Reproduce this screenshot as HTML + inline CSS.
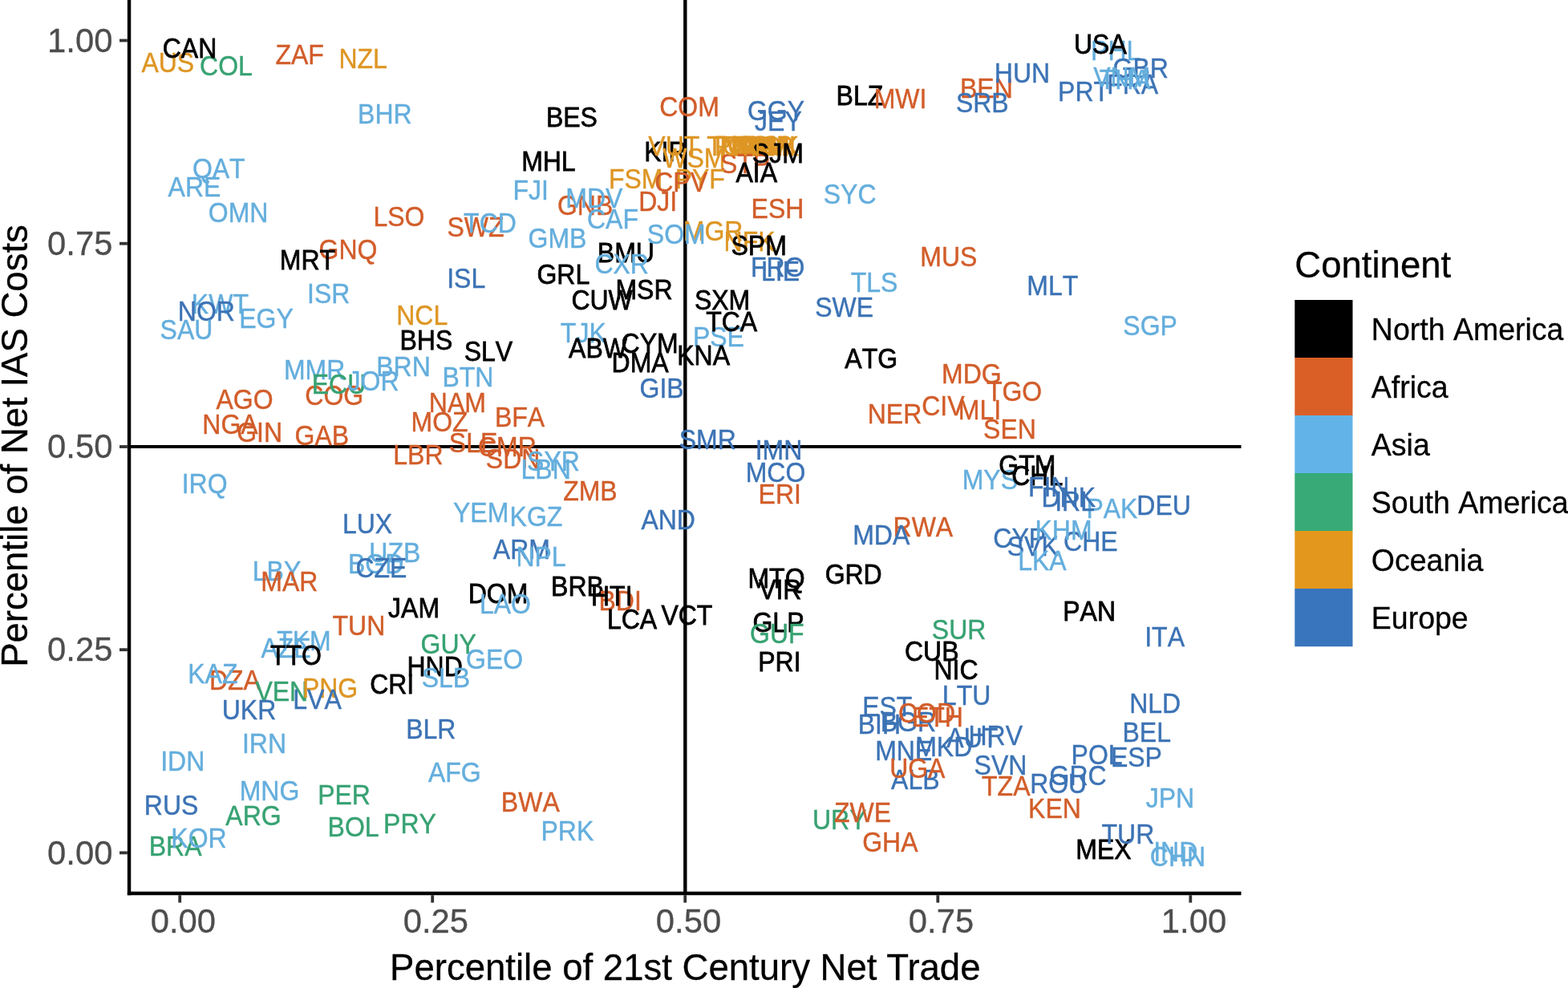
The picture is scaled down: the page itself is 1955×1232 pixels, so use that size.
<!DOCTYPE html>
<html lang="en"><head><meta charset="utf-8"><title>Percentile of Net IAS Costs vs 21st Century Net Trade</title>
<style>html,body{margin:0;padding:0;background:#fff}body{width:1955px;height:1232px;overflow:hidden}svg{display:block}text{font-family:"Liberation Sans",sans-serif;font-kerning:none}.l{font-size:32px;text-anchor:middle;stroke-width:0.4px}.tk{font-size:41.8px;fill:#4D4D4D;stroke:#4D4D4D;stroke-width:0.3px}.ti{font-size:45.55px;fill:#000;stroke:#000;stroke-width:0.3px;font-kerning:auto}.lg{font-size:37.5px;fill:#000;stroke:#000;stroke-width:0.3px}</style></head><body>
<svg width="1955" height="1232" viewBox="0 0 1955 1232" role="img" aria-label="Scatter plot of country codes: percentile of net IAS costs against percentile of 21st century net trade, coloured by continent">
<rect width="1955" height="1232" fill="#fff"/>
<g stroke="#000" fill="none">
<line x1="161" y1="557.1" x2="1547.5" y2="557.1" stroke-width="4"/>
<line x1="854.3" y1="-2" x2="854.3" y2="1114" stroke-width="4.4"/>
</g>
<g class="l" transform="scale(1 1.1)">
<g fill="#DE9624" stroke="#DE9624">
<text x="209.3" y="81.64">AUS</text>
</g>
<g fill="#37A272" stroke="#37A272">
<text x="282.0" y="85.55">COL</text>
</g>
<g fill="#000000" stroke="#000000" stroke-width="0.7">
<text x="236.5" y="65.10">CAN</text>
</g>
<g fill="#D25D2A" stroke="#D25D2A">
<text x="373.6" y="73.10">ZAF</text>
</g>
<g fill="#DE9624" stroke="#DE9624">
<text x="452.7" y="77.55">NZL</text>
</g>
<g fill="#64AEDD" stroke="#64AEDD">
<text x="479.9" y="139.74">BHR</text>
<text x="272.8" y="201.92">QAT</text>
<text x="242.5" y="222.83">ARE</text>
<text x="297.1" y="252.10">OMN</text>
</g>
<g fill="#D25D2A" stroke="#D25D2A">
<text x="497.5" y="256.46">LSO</text>
</g>
<g fill="#000000" stroke="#000000" stroke-width="0.7">
<text x="712.9" y="143.92">BES</text>
</g>
<g fill="#D25D2A" stroke="#D25D2A">
<text x="859.5" y="131.46">COM</text>
</g>
<g fill="#3C73B5" stroke="#3C73B5">
<text x="967.5" y="136.46">GGY</text>
</g>
<g fill="#000000" stroke="#000000" stroke-width="0.7">
<text x="683.9" y="194.01">MHL</text>
</g>
<g fill="#DE9624" stroke="#DE9624">
<text x="792.7" y="214.10">FSM</text>
</g>
<g fill="#64AEDD" stroke="#64AEDD">
<text x="661.8" y="226.55">FJI</text>
</g>
<g fill="#D25D2A" stroke="#D25D2A">
<text x="729.6" y="243.55">GNB</text>
</g>
<g fill="#64AEDD" stroke="#64AEDD">
<text x="740.8" y="235.37">MDV</text>
<text x="764.0" y="258.92">CAF</text>
</g>
<g fill="#D25D2A" stroke="#D25D2A">
<text x="593.0" y="268.37">SWZ</text>
</g>
<g fill="#64AEDD" stroke="#64AEDD">
<text x="611.0" y="263.64">TCD</text>
<text x="695.0" y="280.46">GMB</text>
</g>
<g fill="#000000" stroke="#000000" stroke-width="0.7">
<text x="1071.9" y="118.92">BLZ</text>
</g>
<g fill="#D25D2A" stroke="#D25D2A">
<text x="1122.5" y="123.19">MWI</text>
<text x="1229.9" y="110.92">BEN</text>
</g>
<g fill="#3C73B5" stroke="#3C73B5">
<text x="1224.8" y="127.19">SRB</text>
<text x="1274.5" y="94.10">HUN</text>
</g>
<g fill="#64AEDD" stroke="#64AEDD">
<text x="1059.6" y="230.83">SYC</text>
</g>
<g fill="#D25D2A" stroke="#D25D2A">
<text x="434.0" y="294.10">GNQ</text>
</g>
<g fill="#000000" stroke="#000000" stroke-width="0.7">
<text x="383.4" y="305.74">MRT</text>
</g>
<g fill="#64AEDD" stroke="#64AEDD">
<text x="409.7" y="343.46">ISR</text>
<text x="274.4" y="355.28">KWT</text>
</g>
<g fill="#3C73B5" stroke="#3C73B5">
<text x="257.4" y="364.01">NOR</text>
</g>
<g fill="#64AEDD" stroke="#64AEDD">
<text x="332.0" y="372.01">EGY</text>
<text x="232.5" y="384.28">SAU</text>
<text x="392.1" y="430.10">MMR</text>
<text x="503.0" y="426.46">BRN</text>
</g>
<g fill="#D25D2A" stroke="#D25D2A">
<text x="416.8" y="458.74">COG</text>
<text x="305.1" y="463.46">AGO</text>
<text x="287.0" y="492.28">NGA</text>
<text x="323.6" y="500.46">GIN</text>
<text x="401.3" y="504.28">GAB</text>
</g>
<g fill="#000000" stroke="#000000" stroke-width="0.7">
<text x="780.4" y="297.46">BMU</text>
</g>
<g fill="#3C73B5" stroke="#3C73B5">
<text x="581.2" y="326.28">ISL</text>
</g>
<g fill="#000000" stroke="#000000" stroke-width="0.7">
<text x="702.3" y="322.19">GRL</text>
<text x="803.0" y="339.01">MSR</text>
<text x="900.6" y="350.83">SXM</text>
</g>
<g fill="#DE9624" stroke="#DE9624">
<text x="526.2" y="368.28">NCL</text>
</g>
<g fill="#64AEDD" stroke="#64AEDD">
<text x="727.3" y="388.46">TJK</text>
<text x="895.9" y="392.74">PSE</text>
</g>
<g fill="#000000" stroke="#000000" stroke-width="0.7">
<text x="531.4" y="396.64">BHS</text>
<text x="608.9" y="408.92">SLV</text>
<text x="745.5" y="405.55">ABW</text>
<text x="810.1" y="400.37">CYM</text>
<text x="877.1" y="413.64">KNA</text>
<text x="798.1" y="421.92">DMA</text>
</g>
<g fill="#64AEDD" stroke="#64AEDD">
<text x="583.4" y="437.92">BTN</text>
</g>
<g fill="#3C73B5" stroke="#3C73B5">
<text x="825.1" y="450.64">GIB</text>
</g>
<g fill="#D25D2A" stroke="#D25D2A">
<text x="570.4" y="467.37">NAM</text>
<text x="548.1" y="488.74">MOZ</text>
<text x="648.0" y="484.01">BFA</text>
<text x="590.1" y="512.28">SLE</text>
<text x="632.4" y="517.01">CMR</text>
<text x="521.4" y="526.46">LBR</text>
<text x="639.6" y="531.19">SDN</text>
</g>
<g fill="#64AEDD" stroke="#64AEDD">
<text x="690.0" y="533.55">SYR</text>
<text x="680.7" y="543.01">LBN</text>
</g>
<g fill="#3C73B5" stroke="#3C73B5">
<text x="882.3" y="508.74">SMR</text>
</g>
<g fill="#D25D2A" stroke="#D25D2A">
<text x="1182.8" y="301.64">MUS</text>
</g>
<g fill="#64AEDD" stroke="#64AEDD">
<text x="1090.0" y="330.46">TLS</text>
</g>
<g fill="#3C73B5" stroke="#3C73B5">
<text x="1052.7" y="359.28">SWE</text>
<text x="1312.3" y="334.74">MLT</text>
</g>
<g fill="#64AEDD" stroke="#64AEDD">
<text x="1434.1" y="380.28">SGP</text>
</g>
<g fill="#000000" stroke="#000000" stroke-width="0.7">
<text x="1086.2" y="417.19">ATG</text>
</g>
<g fill="#D25D2A" stroke="#D25D2A">
<text x="1211.3" y="434.64">MDG</text>
<text x="1264.6" y="454.92">TGO</text>
<text x="1175.9" y="471.01">CIV</text>
<text x="1115.5" y="480.46">NER</text>
<text x="1221.5" y="475.74">MLI</text>
<text x="1259.0" y="497.19">SEN</text>
</g>
<g fill="#64AEDD" stroke="#64AEDD">
<text x="255.1" y="559.28">IRQ</text>
<text x="345.0" y="658.28">LBY</text>
</g>
<g fill="#D25D2A" stroke="#D25D2A">
<text x="360.9" y="670.28">MAR</text>
<text x="447.4" y="720.37">TUN</text>
</g>
<g fill="#64AEDD" stroke="#64AEDD">
<text x="379.0" y="736.83">TKM</text>
<text x="356.5" y="745.55">AZE</text>
</g>
<g fill="#000000" stroke="#000000" stroke-width="0.7">
<text x="369.0" y="753.83">TTO</text>
</g>
<g fill="#D25D2A" stroke="#D25D2A">
<text x="292.9" y="782.19">DZA</text>
</g>
<g fill="#37A272" stroke="#37A272">
<text x="351.3" y="794.28">VEN</text>
</g>
<g fill="#DE9624" stroke="#DE9624">
<text x="411.6" y="790.74">PNG</text>
</g>
<g fill="#000000" stroke="#000000" stroke-width="0.7">
<text x="516.1" y="699.55">JAM</text>
<text x="488.7" y="786.46">CRI</text>
</g>
<g fill="#D25D2A" stroke="#D25D2A">
<text x="735.9" y="567.37">ZMB</text>
</g>
<g fill="#64AEDD" stroke="#64AEDD">
<text x="599.7" y="591.64">YEM</text>
<text x="668.5" y="595.92">KGZ</text>
</g>
<g fill="#3C73B5" stroke="#3C73B5">
<text x="833.2" y="600.10">AND</text>
<text x="650.4" y="633.46">ARM</text>
</g>
<g fill="#64AEDD" stroke="#64AEDD">
<text x="674.5" y="641.74">NPL</text>
</g>
<g fill="#000000" stroke="#000000" stroke-width="0.7">
<text x="720.0" y="675.01">BRB</text>
</g>
<g fill="#D25D2A" stroke="#D25D2A">
<text x="773.2" y="691.55">BDI</text>
</g>
<g fill="#000000" stroke="#000000" stroke-width="0.7">
<text x="621.0" y="683.28">DOM</text>
<text x="788.0" y="712.28">LCA</text>
<text x="856.4" y="708.10">VCT</text>
</g>
<g fill="#37A272" stroke="#37A272">
<text x="559.2" y="740.92">GUY</text>
</g>
<g fill="#64AEDD" stroke="#64AEDD">
<text x="616.6" y="758.10">GEO</text>
</g>
<g fill="#000000" stroke="#000000" stroke-width="0.7">
<text x="542.1" y="766.37">HND</text>
<text x="968.0" y="666.46">MTQ</text>
<text x="972.8" y="679.46">VIR</text>
<text x="970.5" y="716.46">GLP</text>
<text x="971.9" y="760.92">PRI</text>
</g>
<g fill="#64AEDD" stroke="#64AEDD">
<text x="1234.4" y="554.37">MYS</text>
</g>
<g fill="#000000" stroke="#000000" stroke-width="0.7">
<text x="1280.8" y="537.83">GTM</text>
</g>
<g fill="#64AEDD" stroke="#64AEDD">
<text x="1386.4" y="587.37">PAK</text>
</g>
<g fill="#3C73B5" stroke="#3C73B5">
<text x="1451.1" y="583.37">DEU</text>
</g>
<g fill="#D25D2A" stroke="#D25D2A">
<text x="1150.9" y="608.64">RWA</text>
</g>
<g fill="#3C73B5" stroke="#3C73B5">
<text x="1098.7" y="616.92">MDA</text>
<text x="1271.2" y="620.46">CYP</text>
<text x="1287.8" y="629.92">SVK</text>
<text x="1359.9" y="624.64">CHE</text>
</g>
<g fill="#000000" stroke="#000000" stroke-width="0.7">
<text x="1064.2" y="662.10">GRD</text>
</g>
<g fill="#37A272" stroke="#37A272">
<text x="1195.6" y="724.64">SUR</text>
</g>
<g fill="#3C73B5" stroke="#3C73B5">
<text x="1452.1" y="733.10">ITA</text>
</g>
<g fill="#000000" stroke="#000000" stroke-width="0.7">
<text x="1161.8" y="749.37">CUB</text>
<text x="1192.0" y="770.37">NIC</text>
</g>
<g fill="#3C73B5" stroke="#3C73B5">
<text x="310.5" y="815.74">UKR</text>
</g>
<g fill="#64AEDD" stroke="#64AEDD">
<text x="329.5" y="853.64">IRN</text>
<text x="227.7" y="873.92">IDN</text>
<text x="336.0" y="907.19">MNG</text>
</g>
<g fill="#37A272" stroke="#37A272">
<text x="429.1" y="911.46">PER</text>
</g>
<g fill="#3C73B5" stroke="#3C73B5">
<text x="213.6" y="923.64">RUS</text>
</g>
<g fill="#37A272" stroke="#37A272">
<text x="316.0" y="935.83">ARG</text>
<text x="440.6" y="948.28">BOL</text>
<text x="511.0" y="944.64">PRY</text>
<text x="218.6" y="969.64">BRA</text>
</g>
<g fill="#3C73B5" stroke="#3C73B5">
<text x="537.3" y="836.83">BLR</text>
</g>
<g fill="#64AEDD" stroke="#64AEDD">
<text x="566.8" y="886.64">AFG</text>
</g>
<g fill="#D25D2A" stroke="#D25D2A">
<text x="661.3" y="919.92">BWA</text>
</g>
<g fill="#64AEDD" stroke="#64AEDD">
<text x="707.4" y="952.83">PRK</text>
</g>
<g fill="#3C73B5" stroke="#3C73B5">
<text x="1205.1" y="799.55">LTU</text>
<text x="1440.2" y="808.19">NLD</text>
<text x="1126.7" y="861.74">MNE</text>
<text x="1176.7" y="857.37">MKD</text>
<text x="1429.7" y="840.92">BEL</text>
<text x="1367.6" y="866.01">POL</text>
<text x="1416.9" y="868.92">ESP</text>
<text x="1247.5" y="877.92">SVN</text>
<text x="1344.1" y="890.10">GRC</text>
<text x="1319.7" y="899.01">ROU</text>
</g>
<g fill="#D25D2A" stroke="#D25D2A">
<text x="1254.3" y="902.19">TZA</text>
</g>
<g fill="#64AEDD" stroke="#64AEDD">
<text x="1458.9" y="915.55">JPN</text>
</g>
<g fill="#D25D2A" stroke="#D25D2A">
<text x="1315.0" y="927.10">KEN</text>
</g>
<g fill="#37A272" stroke="#37A272">
<text x="1046.8" y="940.10">URY</text>
</g>
<g fill="#D25D2A" stroke="#D25D2A">
<text x="1075.6" y="931.74">ZWE</text>
<text x="1109.9" y="965.28">GHA</text>
</g>
<g fill="#000000" stroke="#000000" stroke-width="0.7">
<text x="1376.0" y="973.92">MEX</text>
</g>
<g fill="#64AEDD" stroke="#64AEDD">
<text x="1465.8" y="976.28">IND</text>
<text x="1468.5" y="982.01">CHN</text>
</g>
<g fill="#3C73B5" stroke="#3C73B5">
<text x="1332.2" y="574.83">DNK</text>
<text x="1340.1" y="579.55">IRL</text>
<text x="458.1" y="604.37">LUX</text>
</g>
<g fill="#64AEDD" stroke="#64AEDD">
<text x="492.3" y="637.28">UZB</text>
<text x="468.7" y="650.10">BGD</text>
</g>
<g fill="#3C73B5" stroke="#3C73B5">
<text x="475.4" y="654.19">CZE</text>
<text x="1106.3" y="811.92">EST</text>
<text x="1096.4" y="832.28">BIH</text>
<text x="1132.4" y="829.37">BGR</text>
</g>
<g fill="#D25D2A" stroke="#D25D2A">
<text x="1155.5" y="819.46">COD</text>
<text x="1168.9" y="823.64">ETH</text>
</g>
<g fill="#3C73B5" stroke="#3C73B5">
<text x="1212.3" y="847.10">AUT</text>
<text x="1241.3" y="844.74">HRV</text>
<text x="1141.3" y="895.01">ALB</text>
</g>
<g fill="#D25D2A" stroke="#D25D2A">
<text x="1143.8" y="881.92">UGA</text>
</g>
<g fill="#DE9624" stroke="#DE9624">
<text x="934.6" y="284.92">NFK</text>
</g>
<g fill="#000000" stroke="#000000" stroke-width="0.7">
<text x="946.2" y="289.19">SPM</text>
</g>
<g fill="#3C73B5" stroke="#3C73B5">
<text x="969.7" y="313.64">FRO</text>
<text x="973.1" y="318.64">LIE</text>
</g>
<g fill="#000000" stroke="#000000" stroke-width="0.7">
<text x="829.9" y="182.37">KIR</text>
</g>
<g fill="#DE9624" stroke="#DE9624">
<text x="840.3" y="176.74">VUT</text>
<text x="921.2" y="176.74">TKL</text>
<text x="925.7" y="176.74">PLW</text>
<text x="932.9" y="176.74">NRU</text>
<text x="938.4" y="176.74">NIU</text>
<text x="944.5" y="176.74">GUM</text>
<text x="950.3" y="176.74">ASM</text>
<text x="953.5" y="176.74">MNP</text>
<text x="958.0" y="176.74">PCN</text>
<text x="961.4" y="176.74">COK</text>
<text x="865.4" y="190.28">WSM</text>
</g>
<g fill="#D25D2A" stroke="#D25D2A">
<text x="929.1" y="196.46">STP</text>
</g>
<g fill="#000000" stroke="#000000" stroke-width="0.7">
<text x="969.8" y="185.01">SJM</text>
<text x="943.2" y="206.28">AIA</text>
</g>
<g fill="#3C73B5" stroke="#3C73B5">
<text x="970.4" y="147.83">JEY</text>
</g>
<g fill="#DE9624" stroke="#DE9624">
<text x="872.8" y="214.10">PYF</text>
</g>
<g fill="#D25D2A" stroke="#D25D2A">
<text x="820.2" y="239.19">DJI</text>
<text x="969.5" y="247.55">ESH</text>
</g>
<g fill="#DE9624" stroke="#DE9624">
<text x="889.1" y="272.37">MGR</text>
</g>
<g fill="#64AEDD" stroke="#64AEDD">
<text x="843.3" y="276.46">SOM</text>
</g>
<g fill="#000000" stroke="#000000" stroke-width="0.7">
<text x="1358.1" y="703.83">PAN</text>
</g>
<g fill="#64AEDD" stroke="#64AEDD">
<text x="1391.2" y="68.46">PHL</text>
</g>
<g fill="#000000" stroke="#000000" stroke-width="0.7">
<text x="1371.9" y="60.64">USA</text>
</g>
<g fill="#3C73B5" stroke="#3C73B5">
<text x="1351.1" y="114.74">PRT</text>
<text x="1422.2" y="88.46">GBR</text>
<text x="1412.2" y="106.19">FRA</text>
</g>
<g fill="#64AEDD" stroke="#64AEDD">
<text x="1398.7" y="98.28">VNM</text>
<text x="1402.7" y="100.55">THA</text>
<text x="775.2" y="310.01">CXR</text>
</g>
<g fill="#000000" stroke="#000000" stroke-width="0.7">
<text x="750.6" y="350.83">CUW</text>
</g>
<g fill="#D25D2A" stroke="#D25D2A">
<text x="972.3" y="570.83">ERI</text>
</g>
<g fill="#3C73B5" stroke="#3C73B5">
<text x="971.0" y="521.01">IMN</text>
<text x="967.0" y="546.10">MCO</text>
</g>
<g fill="#DE9624" stroke="#DE9624">
<text x="914.9" y="176.74">TON</text>
</g>
<g fill="#000000" stroke="#000000" stroke-width="0.7">
<text x="912.2" y="375.83">TCA</text>
</g>
<g fill="#37A272" stroke="#37A272">
<text x="422.5" y="446.64">ECU</text>
</g>
<g fill="#64AEDD" stroke="#64AEDD">
<text x="465.5" y="442.64">JOR</text>
<text x="629.9" y="695.10">LAO</text>
</g>
<g fill="#000000" stroke="#000000" stroke-width="0.7">
<text x="762.8" y="686.55">HTI</text>
</g>
<g fill="#64AEDD" stroke="#64AEDD">
<text x="265.4" y="774.64">KAZ</text>
</g>
<g fill="#3C73B5" stroke="#3C73B5">
<text x="395.5" y="803.37">LVA</text>
</g>
<g fill="#37A272" stroke="#37A272">
<text x="968.8" y="729.19">GUF</text>
</g>
<g fill="#000000" stroke="#000000" stroke-width="0.7">
<text x="1293.2" y="550.10">CHL</text>
</g>
<g fill="#3C73B5" stroke="#3C73B5">
<text x="1307.7" y="562.46">FIN</text>
</g>
<g fill="#64AEDD" stroke="#64AEDD">
<text x="1326.0" y="612.19">KHM</text>
<text x="1299.4" y="645.92">LKA</text>
<text x="248.0" y="961.01">KOR</text>
<text x="555.9" y="778.92">SLB</text>
</g>
<g fill="#3C73B5" stroke="#3C73B5">
<text x="1406.4" y="956.55">TUR</text>
</g>
<g fill="#D25D2A" stroke="#D25D2A">
<text x="849.1" y="217.64">CPV</text>
</g>
</g>
<g stroke="#000" stroke-width="4.4" fill="none">
<line x1="161.05" y1="-2" x2="161.05" y2="1116.2"/>
<line x1="158.85" y1="1114" x2="1547.5" y2="1114"/>
</g>
<g stroke="#333" stroke-width="3.8" fill="none">
<line x1="224.2" y1="1116.2" x2="224.2" y2="1125.6"/>
<line x1="149" y1="1063.4" x2="158.85" y2="1063.4"/>
<line x1="539.2" y1="1116.2" x2="539.2" y2="1125.6"/>
<line x1="149" y1="810.2" x2="158.85" y2="810.2"/>
<line x1="854.2" y1="1116.2" x2="854.2" y2="1125.6"/>
<line x1="149" y1="557.0" x2="158.85" y2="557.0"/>
<line x1="1169.3" y1="1116.2" x2="1169.3" y2="1125.6"/>
<line x1="149" y1="303.7" x2="158.85" y2="303.7"/>
<line x1="1484.3" y1="1116.2" x2="1484.3" y2="1125.6"/>
<line x1="149" y1="50.5" x2="158.85" y2="50.5"/>
</g>
<text class="tk" transform="translate(228.4 1162.9) scale(1 1.015)" text-anchor="middle">0.00</text>
<text class="tk" transform="translate(543.4 1162.9) scale(1 1.015)" text-anchor="middle">0.25</text>
<text class="tk" transform="translate(858.5 1162.9) scale(1 1.015)" text-anchor="middle">0.50</text>
<text class="tk" transform="translate(1173.5 1162.9) scale(1 1.015)" text-anchor="middle">0.75</text>
<text class="tk" transform="translate(1488.5 1162.9) scale(1 1.015)" text-anchor="middle">1.00</text>
<text class="tk" transform="translate(140.4 1077.5) scale(1 1.015)" text-anchor="end">0.00</text>
<text class="tk" transform="translate(140.4 824.3) scale(1 1.015)" text-anchor="end">0.25</text>
<text class="tk" transform="translate(140.4 571.1) scale(1 1.015)" text-anchor="end">0.50</text>
<text class="tk" transform="translate(140.4 317.8) scale(1 1.015)" text-anchor="end">0.75</text>
<text class="tk" transform="translate(140.4 64.6) scale(1 1.015)" text-anchor="end">1.00</text>
<text class="ti" transform="translate(854.3 1221.8) scale(1 1.03)" text-anchor="middle">Percentile of 21st Century Net Trade</text>
<text class="ti" transform="translate(33.8 556.0) rotate(-90) scale(1 1.03)" text-anchor="middle">Percentile of Net IAS Costs</text>
<text class="ti" transform="translate(1614.3 346.4) scale(1 1.03)">Continent</text>
<rect x="1614.3" y="374.0" width="72.2" height="72.2" fill="#000000"/>
<text class="lg" transform="translate(1709.8 423.8) scale(1 1.04)">North America</text>
<rect x="1614.3" y="446.0" width="72.2" height="72.2" fill="#D95F27"/>
<text class="lg" transform="translate(1709.8 495.8) scale(1 1.04)">Africa</text>
<rect x="1614.3" y="518.0" width="72.2" height="72.2" fill="#62B4E8"/>
<text class="lg" transform="translate(1709.8 567.8) scale(1 1.04)">Asia</text>
<rect x="1614.3" y="590.0" width="72.2" height="72.2" fill="#37AA78"/>
<text class="lg" transform="translate(1709.8 639.8) scale(1 1.04)">South America</text>
<rect x="1614.3" y="662.0" width="72.2" height="72.2" fill="#E3971C"/>
<text class="lg" transform="translate(1709.8 711.8) scale(1 1.04)">Oceania</text>
<rect x="1614.3" y="734.0" width="72.2" height="72.2" fill="#3875BC"/>
<text class="lg" transform="translate(1709.8 783.8) scale(1 1.04)">Europe</text>
</svg></body></html>
